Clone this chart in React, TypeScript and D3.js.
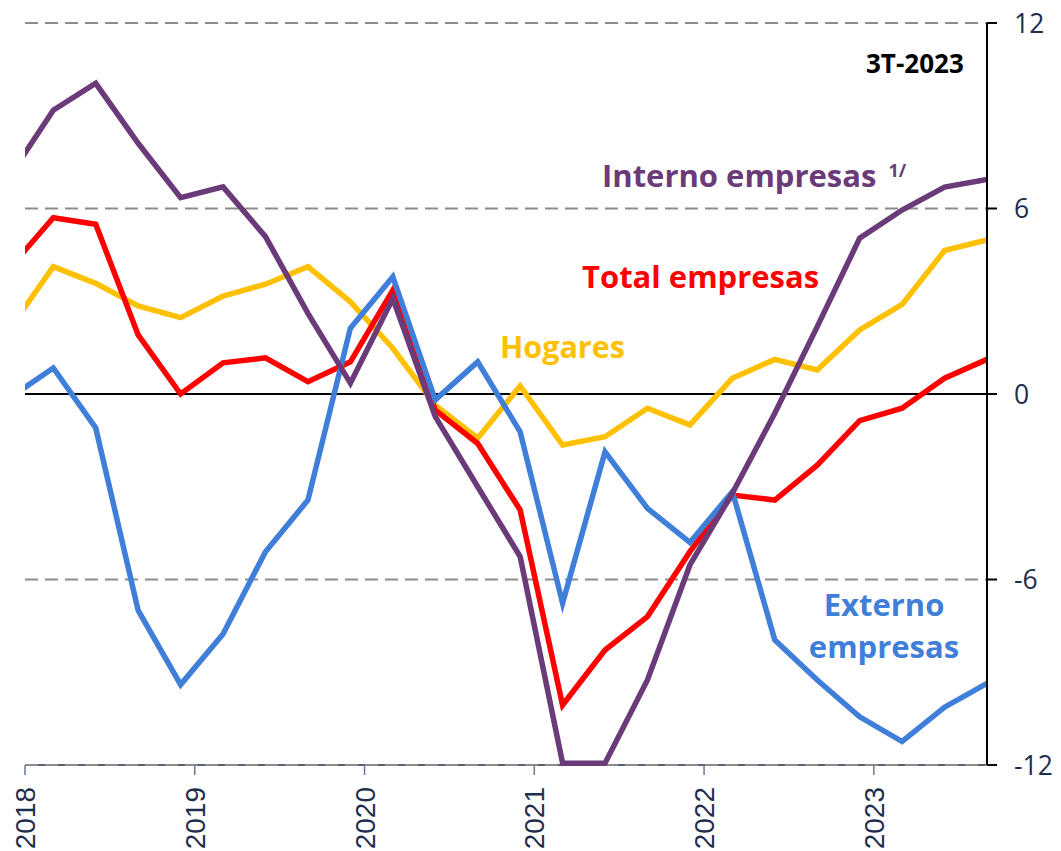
import React from "react";
import * as d3 from "d3";

// Quarterly observations, 4T-2017 .. 3T-2023
const quarters = [
  "4T-2017",
  "1T-2018", "2T-2018", "3T-2018", "4T-2018",
  "1T-2019", "2T-2019", "3T-2019", "4T-2019",
  "1T-2020", "2T-2020", "3T-2020", "4T-2020",
  "1T-2021", "2T-2021", "3T-2021", "4T-2021",
  "1T-2022", "2T-2022", "3T-2022", "4T-2022",
  "1T-2023", "2T-2023", "3T-2023",
];

const totalEmpresas = [
  4.12, 5.7, 5.49, 1.91, 0.0, 1.01, 1.17, 0.4, 1.04, 3.36, -0.52, -1.6,
  -3.75, -10.06, -8.28, -7.2, -5.1, -3.27, -3.43, -2.3, -0.86, -0.46, 0.51, 1.12,
];
const internoEmpresas = [
  7.1, 9.18, 10.05, 8.11, 6.35, 6.7, 5.09, 2.61, 0.35, 3.09, -0.73, -3.0,
  -5.26, -11.94, -11.94, -9.25, -5.53, -3.21, -0.62, 2.18, 5.04, 5.95, 6.69, 6.94,
];
const externoEmpresas = [
  -0.1, 0.84, -1.1, -7.0, -9.4, -7.76, -5.1, -3.43, 2.13, 3.79, -0.19, 1.04,
  -1.22, -6.77, -1.87, -3.7, -4.8, -3.16, -7.96, -9.25, -10.44, -11.24, -10.13, -9.36,
];
const hogares = [
  2.16, 4.12, 3.58, 2.85, 2.47, 3.17, 3.55, 4.12, 2.98, 1.48, -0.36, -1.43,
  0.26, -1.65, -1.38, -0.46, -1.0, 0.51, 1.12, 0.78, 2.07, 2.9, 4.64, 4.98,
];

const yearTicks = [2018, 2019, 2020, 2021, 2022, 2023];
const yTicks = [12, 6, 0, -6, -12];
const gridValues = [12, 6, -6, -12];
const periodLabel = "3T-2023";

const W = 1061;
const H = 851;
const left = 25;
const right = 987;
const top = 23;
const bottom = 765;

// month index from Jan-2018; each quarter plotted at the first day of its last month
const monthOf = (q: string) => {
  const [t, y] = q.split("T-");
  return (+y - 2018) * 12 + 3 * +t - 1;
};

export default function App() {
  const x = d3.scaleLinear().domain([0, monthOf("3T-2023")]).range([left, right]);
  const y = d3.scaleLinear().domain([-12, 12]).range([bottom, top]);

  const line = d3
    .line<number>()
    .x((_, i) => x(monthOf(quarters[i])))
    .y((d) => y(d));

  const series = [
    { values: hogares, color: "#FFC000" },
    { values: totalEmpresas, color: "#FF0000" },
    { values: externoEmpresas, color: "#3F7FD9" },
    { values: internoEmpresas, color: "#6B3A78" },
  ];

  const navy = "#1F2D4E";
  const font = "'Open Sans', sans-serif";

  return (
    <svg
      width={W}
      height={H}
      style={{ position: "absolute", left: 0, top: 0, background: "#fff" }}
    >
      <defs>
        <clipPath id="plot">
          <rect x={left} y={0} width={right - left} height={H} />
        </clipPath>
      </defs>

      {/* bottom axis line */}
      <line x1={left} x2={right} y1={y(-12)} y2={y(-12)} stroke={navy} strokeWidth={1.5} />

      {/* gridlines */}
      {gridValues.map((v) => (
        <line
          key={v}
          x1={left}
          x2={right}
          y1={y(v)}
          y2={y(v)}
          stroke="#8C8C8C"
          strokeWidth={2}
          strokeDasharray="13 7"
        />
      ))}

      {/* zero line */}
      <line x1={left} x2={right + 10} y1={y(0)} y2={y(0)} stroke="#000" strokeWidth={2} />

      {/* year ticks & labels */}
      {yearTicks.map((yr) => {
        const px = x((yr - 2018) * 12);
        return (
          <g key={yr}>
            <line x1={px} x2={px} y1={bottom} y2={bottom + 10} stroke="#6A7A93" strokeWidth={1.5} />
            <text
              transform={`translate(${px},787) rotate(-90)`}
              textAnchor="end"
              dy="0.36em"
              fontFamily="'Liberation Sans', Arial, sans-serif"
              fontSize={28}
              fill={navy}
            >
              {yr}
            </text>
          </g>
        );
      })}

      {/* series */}
      <g clipPath="url(#plot)">
        {series.map((s, i) => (
          <path
            key={i}
            d={line(s.values) || ""}
            fill="none"
            stroke={s.color}
            strokeWidth={5.5}
            strokeLinejoin="miter"
          />
        ))}
      </g>

      {/* right axis */}
      <line x1={right} x2={right} y1={top} y2={bottom} stroke="#000" strokeWidth={2} />
      {yTicks.map((v) => (
        <g key={v}>
          <line x1={right} x2={right + 10} y1={y(v)} y2={y(v)} stroke="#000" strokeWidth={2} />
          <text
            x={1014}
            y={y(v)}
            dy="0.36em"
            fontFamily={font}
            fontSize={26.5}
            fill={navy}
          >
            {v}
          </text>
        </g>
      ))}

      {/* annotations */}
      <text x={866} y={73} fontFamily={font} fontWeight={700} fontSize={26} fill="#000">
        {periodLabel}
      </text>
      <text x={602} y={187} fontFamily={font} fontWeight={700} fontSize={31} fill="#6B3A78">
        Interno empresas
        <tspan dx={12} dy={-10} fontSize={18}>1/</tspan>
      </text>
      <text x={582} y={288} fontFamily={font} fontWeight={700} fontSize={31} fill="#FF0000">
        Total empresas
      </text>
      <text x={500} y={358} fontFamily={font} fontWeight={700} fontSize={30.5} fill="#FFC000">
        Hogares
      </text>
      <text x={884} y={616} textAnchor="middle" fontFamily={font} fontWeight={700} fontSize={31} fill="#3F7FD9">
        Externo
      </text>
      <text x={884} y={658} textAnchor="middle" fontFamily={font} fontWeight={700} fontSize={31} fill="#3F7FD9">
        empresas
      </text>
    </svg>
  );
}
